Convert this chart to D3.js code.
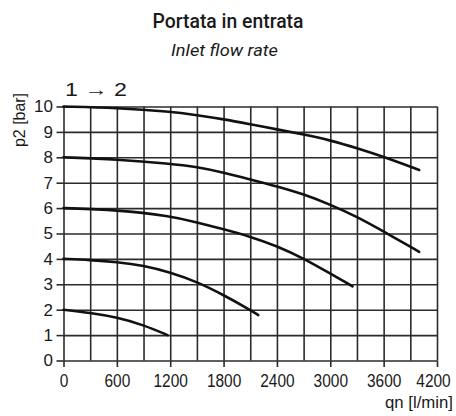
<!DOCTYPE html>
<html>
<head>
<meta charset="utf-8">
<script src="https://cdn.jsdelivr.net/npm/d3@7"></script>
<style>
  body { margin: 0; background: #fff; }
  svg text { fill: #1a1a1a; }
</style>
</head>
<body>
<svg id="chart" width="456" height="416"></svg>
<script>
// flow rate qn [l/min] vs outlet pressure p2 [bar], one curve per set pressure
var curve10 = [[0, 10], [600, 9.95], [1200, 9.8], [1500, 9.66], [1800, 9.5], [2100, 9.3], [2400, 9.1], [2700, 8.9], [3000, 8.67], [3300, 8.36], [3600, 8.02], [4000, 7.5]];
var curve8 = [[0, 8], [600, 7.92], [1200, 7.75], [1500, 7.62], [1800, 7.4], [2100, 7.13], [2400, 6.86], [2700, 6.55], [3000, 6.14], [3300, 5.66], [3600, 5.08], [4000, 4.28]];
var curve6 = [[0, 6], [600, 5.93], [1200, 5.69], [1500, 5.44], [1800, 5.17], [2100, 4.88], [2400, 4.51], [2700, 4.02], [3000, 3.42], [3250, 2.92]];
var curve4 = [[0, 4], [300, 3.96], [600, 3.88], [900, 3.74], [1200, 3.47], [1500, 3.1], [1800, 2.58], [2100, 1.99], [2190, 1.79]];
var curve2 = [[0, 2], [300, 1.88], [600, 1.7], [900, 1.4], [1170, 1.0]];

var xTicks = [0, 600, 1200, 1800, 2400, 3000, 3600, 4200];
var yTicks = [0, 1, 2, 3, 4, 5, 6, 7, 8, 9, 10];
var xGrid = [0, 300, 600, 900, 1200, 1500, 1800, 2100, 2400, 2700, 3000, 3300, 3600, 3900, 4200];

var margin = { top: 106.5, right: 19, bottom: 55.5, left: 63.5 };
var width = 456 - margin.left - margin.right;
var height = 416 - margin.top - margin.bottom;

var svg = d3.select("#chart");

// titles
svg.append("text")
  .attr("x", 228).attr("y", 27.5)
  .attr("text-anchor", "middle")
  .attr("font-family", "Roboto, 'Liberation Sans', sans-serif")
  .attr("font-weight", 500)
  .attr("font-size", 21)
  .attr("textLength", 151).attr("lengthAdjust", "spacingAndGlyphs")
  .text("Portata in entrata");

svg.append("text")
  .attr("x", 224.5).attr("y", 56)
  .attr("text-anchor", "middle")
  .attr("font-family", "Roboto, 'Liberation Sans', sans-serif")
  .attr("font-style", "italic")
  .attr("font-size", 16.5)
  .attr("textLength", 107).attr("lengthAdjust", "spacingAndGlyphs")
  .text("Inlet flow rate");

var g = svg.append("g")
  .attr("transform", "translate(" + margin.left + "," + margin.top + ")");

var x = d3.scaleLinear().domain([0, 4200]).range([0, width]);
var y = d3.scaleLinear().domain([0, 10]).range([height, 0]);

// grid
var gridColor = "#2b2b2b";
g.append("g")
  .attr("class", "grid-x")
  .attr("transform", "translate(0," + height + ")")
  .call(d3.axisBottom(x).tickValues(xGrid).tickSize(-height).tickFormat(""))
  .call(function (a) {
    a.select(".domain").remove();
    a.selectAll("line").attr("stroke", gridColor).attr("stroke-width", 1.6);
  });

g.append("g")
  .attr("class", "grid-y")
  .call(d3.axisLeft(y).tickValues(yTicks).tickSize(-width).tickFormat(""))
  .call(function (a) {
    a.select(".domain").remove();
    a.selectAll("line").attr("stroke", gridColor).attr("stroke-width", 1.6);
  });

// axes (ticks + labels only)
g.append("g")
  .attr("transform", "translate(0," + height + ")")
  .call(d3.axisBottom(x).tickValues(xTicks).tickFormat(d3.format("d")).tickSize(6.5).tickPadding(7))
  .call(function (a) {
    a.select(".domain").remove();
    a.selectAll("line").attr("stroke", gridColor).attr("stroke-width", 1.6);
    a.selectAll("text")
      .attr("fill", "#333")
      .attr("font-family", "'Liberation Sans', Arial, sans-serif")
      .attr("font-size", 18)
      .attr("textLength", function (d) { return String(d).length * 8.6; })
      .attr("lengthAdjust", "spacingAndGlyphs");
    // last label sits a little inside in the original
    a.selectAll("text").filter(function (d) { return d === 4200; }).attr("x", -4);
  });

g.append("g")
  .call(d3.axisLeft(y).tickValues(yTicks).tickSize(7).tickPadding(3.5))
  .call(function (a) {
    a.select(".domain").remove();
    a.selectAll("line").attr("stroke", gridColor).attr("stroke-width", 1.6);
    a.selectAll("text")
      .attr("fill", "#333")
      .attr("font-family", "'Liberation Sans', Arial, sans-serif")
      .attr("font-size", 17);
  });

// curves (b-spline through the read points to keep them smooth)
var line = d3.line()
  .x(function (d) { return x(d[0]); })
  .y(function (d) { return y(d[1]); })
  .curve(d3.curveBasis);

g.selectAll("path.curve")
  .data([curve10, curve8, curve6, curve4, curve2])
  .enter().append("path")
  .attr("class", "curve")
  .attr("d", line)
  .attr("fill", "none")
  .attr("stroke", "#111")
  .attr("stroke-width", 2.6)
  .attr("stroke-linecap", "round");

// axis titles
svg.append("text")
  .attr("x", 65).attr("y", 96)
  .attr("font-family", "'Liberation Sans', Arial, sans-serif")
  .attr("font-size", 19)
  .attr("fill", "#333")
  .attr("textLength", 62).attr("lengthAdjust", "spacingAndGlyphs")
  .text("1 \u2192 2");

svg.append("text")
  .attr("transform", "translate(24.5,120) rotate(-90)")
  .attr("text-anchor", "middle")
  .attr("font-family", "'Liberation Sans', Arial, sans-serif")
  .attr("font-size", 17)
  .attr("fill", "#333")
  .attr("textLength", 54).attr("lengthAdjust", "spacingAndGlyphs")
  .text("p2 [bar]");

svg.append("text")
  .attr("x", 453).attr("y", 408)
  .attr("text-anchor", "end")
  .attr("font-family", "'Liberation Sans', Arial, sans-serif")
  .attr("font-size", 17)
  .attr("fill", "#333")
  .attr("textLength", 68).attr("lengthAdjust", "spacingAndGlyphs")
  .text("qn [l/min]");
</script>
</body>
</html>
